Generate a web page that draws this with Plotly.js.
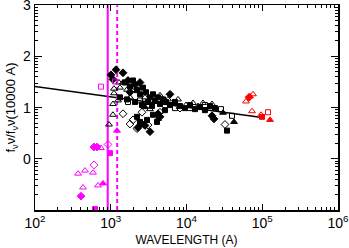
<!DOCTYPE html>
<html>
<head>
<meta charset="utf-8">
<script src="https://cdn.plot.ly/plotly-3.0.1.min.js"></script>
<style>html,body{margin:0;padding:0;background:#fff;}#chart{width:349px;height:248px;}</style>
</head>
<body>
<div id="chart"></div>
<script>
// ---- data: wavelength (A) and normalised flux ----
// black
const blkFilledDiamondX = [1007,1173,1451,1070,1689,2089,2432,1795,4467,4207,23070,21720,3296,6053,2291,2831];
const blkFilledDiamondY = [1.64,1.74,1.68,1.55,1.53,1.45,1.49,1.30,0.82,0.88,0.78,0.84,0.53,1.26,0.61,0.65];
const blkFilledSquareX = [1542,1795,1967,2222,2432,2665,2919,3296,3103,3612,3837,4207,4467,4897,5360,6053,7047,8203,9550,11117,12942,15066,17539,20417,23768,1324,1638,2089,2585,3503,2222,2432,3612,3010,4080,2585,34270,5200];
const blkFilledSquareY = [1.49,1.41,1.53,1.34,1.26,1.39,1.30,1.20,1.11,1.26,1.14,1.20,1.07,1.16,1.11,1.05,1.11,1.03,0.99,1.05,0.97,1.01,0.95,1.03,0.99,1.20,1.16,1.11,1.05,1.03,0.82,0.72,0.86,0.76,0.72,0.68,0.55,0.95];
const blkOpenTriangleX = [1285,1103,1103,1638,1070,1070,948,1451,1324,1908,2291,2831,3296,4467,5700,7720,9840,12190,16520,21720,1795,1246,3837,14190];
const blkOpenTriangleY = [1.49,1.37,1.28,1.35,1.07,0.86,0.67,1.49,1.39,1.34,1.43,1.20,0.97,1.24,1.16,1.16,1.05,1.09,1.09,1.07,1.20,1.14,1.11,1.03];
const blkOpenDiamondX = [1451,1795,2222,1967,2585,3103,32211,8203,4467];
const blkOpenDiamondY = [0.88,0.68,0.59,0.76,0.91,0.66,0.67,0.99,0.91];
const blkOpenSquareX = [28510,39900,1689,7047,11117,17539,2432];
const blkOpenSquareY = [0.97,0.84,1.11,0.99,0.99,1.05,1.14];
const blkFilledTriangleX = [30340,42380,4207,2831];
const blkFilledTriangleY = [0.90,0.72,0.78,1.01];
// magenta
const magOpenSquareX = [743,1138];
const magOpenSquareY = [1.41,1.51];
const magOpenDiamondX = [920,601];
const magOpenDiamondY = [0.28,-0.12];
const magFilledSquareX = [977,620];
const magFilledSquareY = [0.11,-0.98];
const magFilledDiamondX = [601,658,405];
const magFilledDiamondY = [0.23,0.23,-0.73];
const magOpenTriangleX = [743,583,370,457,430,679];
const magOpenTriangleY = [0.21,-0.27,-0.29,-0.23,-0.56,-0.52];
const magFilledTriangleX = [791,1209];
const magFilledTriangleY = [-0.48,0.55];
// red
const redOpenTriangleX = [60960,68860,75500,73280,96360];
const redOpenTriangleY = [1.12,1.22,1.26,0.93,0.86];
const redFilledDiamondX = [66830];
const redFilledDiamondY = [1.20];
const redFilledSquareX = [99330];
const redFilledSquareY = [0.82];
const redOpenSquareX = [119200];
const redOpenSquareY = [0.91];
const redFilledTriangleX = [126600];
const redFilledTriangleY = [0.76];
// fit line and reference wavelengths
const fitX = [100, 105000];
const fitY = [1.41, 0.80];
const lymanLimit = 912;
const lymanAlpha = 1216;
const yRange = [-1, 3];
const xTickVals = [100, 1000, 10000, 100000, 1000000];
const xTickText = ['10<sup>2</sup>','10<sup>3</sup>','10<sup>4</sup>','10<sup>5</sup>','10<sup>6</sup>'];
const yTickVals = [0, 1, 2, 3];
const yTickText = ['0','1','2','3'];

const BLACK='#000000', MAG='#FF00FF', RED='#FF0000';
function pts(x,y,color,symbol,size){
  return {type:'scatter',mode:'markers',x:x,y:y,showlegend:false,hoverinfo:'skip',cliponaxis:false,
    marker:{color:color,symbol:symbol,size:size,line:{color:color,width:1}}};
}
const traces = [
  {type:'scatter',mode:'lines',x:fitX,y:fitY,line:{color:BLACK,width:1.5},showlegend:false},
  {type:'scatter',mode:'lines',x:[lymanLimit,lymanLimit],y:yRange,line:{color:MAG,width:2},showlegend:false},
  {type:'scatter',mode:'lines',x:[lymanAlpha,lymanAlpha],y:yRange,line:{color:MAG,width:2,dash:'4px,3px'},showlegend:false},
  pts(blkFilledSquareX,blkFilledSquareY,BLACK,'square',5),
  pts(blkFilledDiamondX,blkFilledDiamondY,BLACK,'diamond',6),
  pts(blkOpenTriangleX,blkOpenTriangleY,BLACK,'triangle-up-open',6),
  pts(blkOpenDiamondX,blkOpenDiamondY,BLACK,'diamond-open',6),
  pts(blkOpenSquareX,blkOpenSquareY,BLACK,'square-open',5),
  pts(blkFilledTriangleX,blkFilledTriangleY,BLACK,'triangle-up',6),
  pts(magOpenSquareX,magOpenSquareY,MAG,'square-open',5),
  pts(magOpenDiamondX,magOpenDiamondY,MAG,'diamond-open',6),
  pts(magFilledSquareX,magFilledSquareY,MAG,'square',5),
  pts(magFilledDiamondX,magFilledDiamondY,MAG,'diamond',6),
  pts(magOpenTriangleX,magOpenTriangleY,MAG,'triangle-up-open',6),
  pts(magFilledTriangleX,magFilledTriangleY,MAG,'triangle-up',6),
  pts(redOpenTriangleX,redOpenTriangleY,RED,'triangle-up-open',6),
  pts(redFilledDiamondX,redFilledDiamondY,RED,'diamond',6),
  pts(redFilledSquareX,redFilledSquareY,RED,'square',5),
  pts(redOpenSquareX,redOpenSquareY,RED,'square-open',5),
  pts(redFilledTriangleX,redFilledTriangleY,RED,'triangle-up',6)
];

const xMinor=[]; for(let e=2;e<6;e++){for(let k=2;k<10;k++){xMinor.push(k*Math.pow(10,e));}}
const yMinor=[]; for(let e=-1;e<3;e++){for(let k=2;k<10;k++){yMinor.push(e+Math.log10(k));}}

const fam = 'Liberation Sans, Arial, sans-serif';
const layout = {
  width:349, height:248,
  margin:{l:35,r:11,t:5,b:38},
  paper_bgcolor:'#fff', plot_bgcolor:'#fff',
  font:{family:fam,size:12,color:'#000'}, showlegend:false,
  xaxis:{type:'log', range:[2,6], tickmode:'array', tickvals:xTickVals, ticktext:xTickText,
    ticks:'inside', ticklen:6, tickwidth:1, tickcolor:'#000', showgrid:false, zeroline:false,
    showline:true, linecolor:'#000', linewidth:1.5, mirror:'ticks', ticklabeloverflow:'allow',
    minor:{tickmode:'array', tickvals:xMinor, ticks:'inside', ticklen:3, tickwidth:1, tickcolor:'#000', showgrid:false},
    tickfont:{family:fam,size:14,color:'#000'},
    title:{text:'WAVELENGTH (A)', font:{family:fam,size:12,color:'#000'}, standoff:5}, automargin:false},
  yaxis:{type:'linear', range:[yRange[0], yRange[1]+0.004], tickmode:'array', tickvals:yTickVals, ticktext:yTickText,
    ticks:'inside', ticklen:7, tickwidth:1, tickcolor:'#000', showgrid:false, zeroline:false,
    showline:true, linecolor:'#000', linewidth:1.5, mirror:'ticks', ticklabeloverflow:'allow',
    minor:{tickmode:'array', tickvals:yMinor, ticks:'inside', ticklen:3, tickwidth:1, tickcolor:'#000', showgrid:false},
    tickfont:{family:fam,size:14,color:'#000'},
    title:{text:'f<sub>ν</sub>ν/f<sub>ν</sub>ν(10000 A)', font:{family:fam,size:13,color:'#000'}, standoff:4}, automargin:false}
};
Plotly.newPlot('chart', traces, layout, {staticPlot:true, displayModeBar:false});
</script>
</body>
</html>
